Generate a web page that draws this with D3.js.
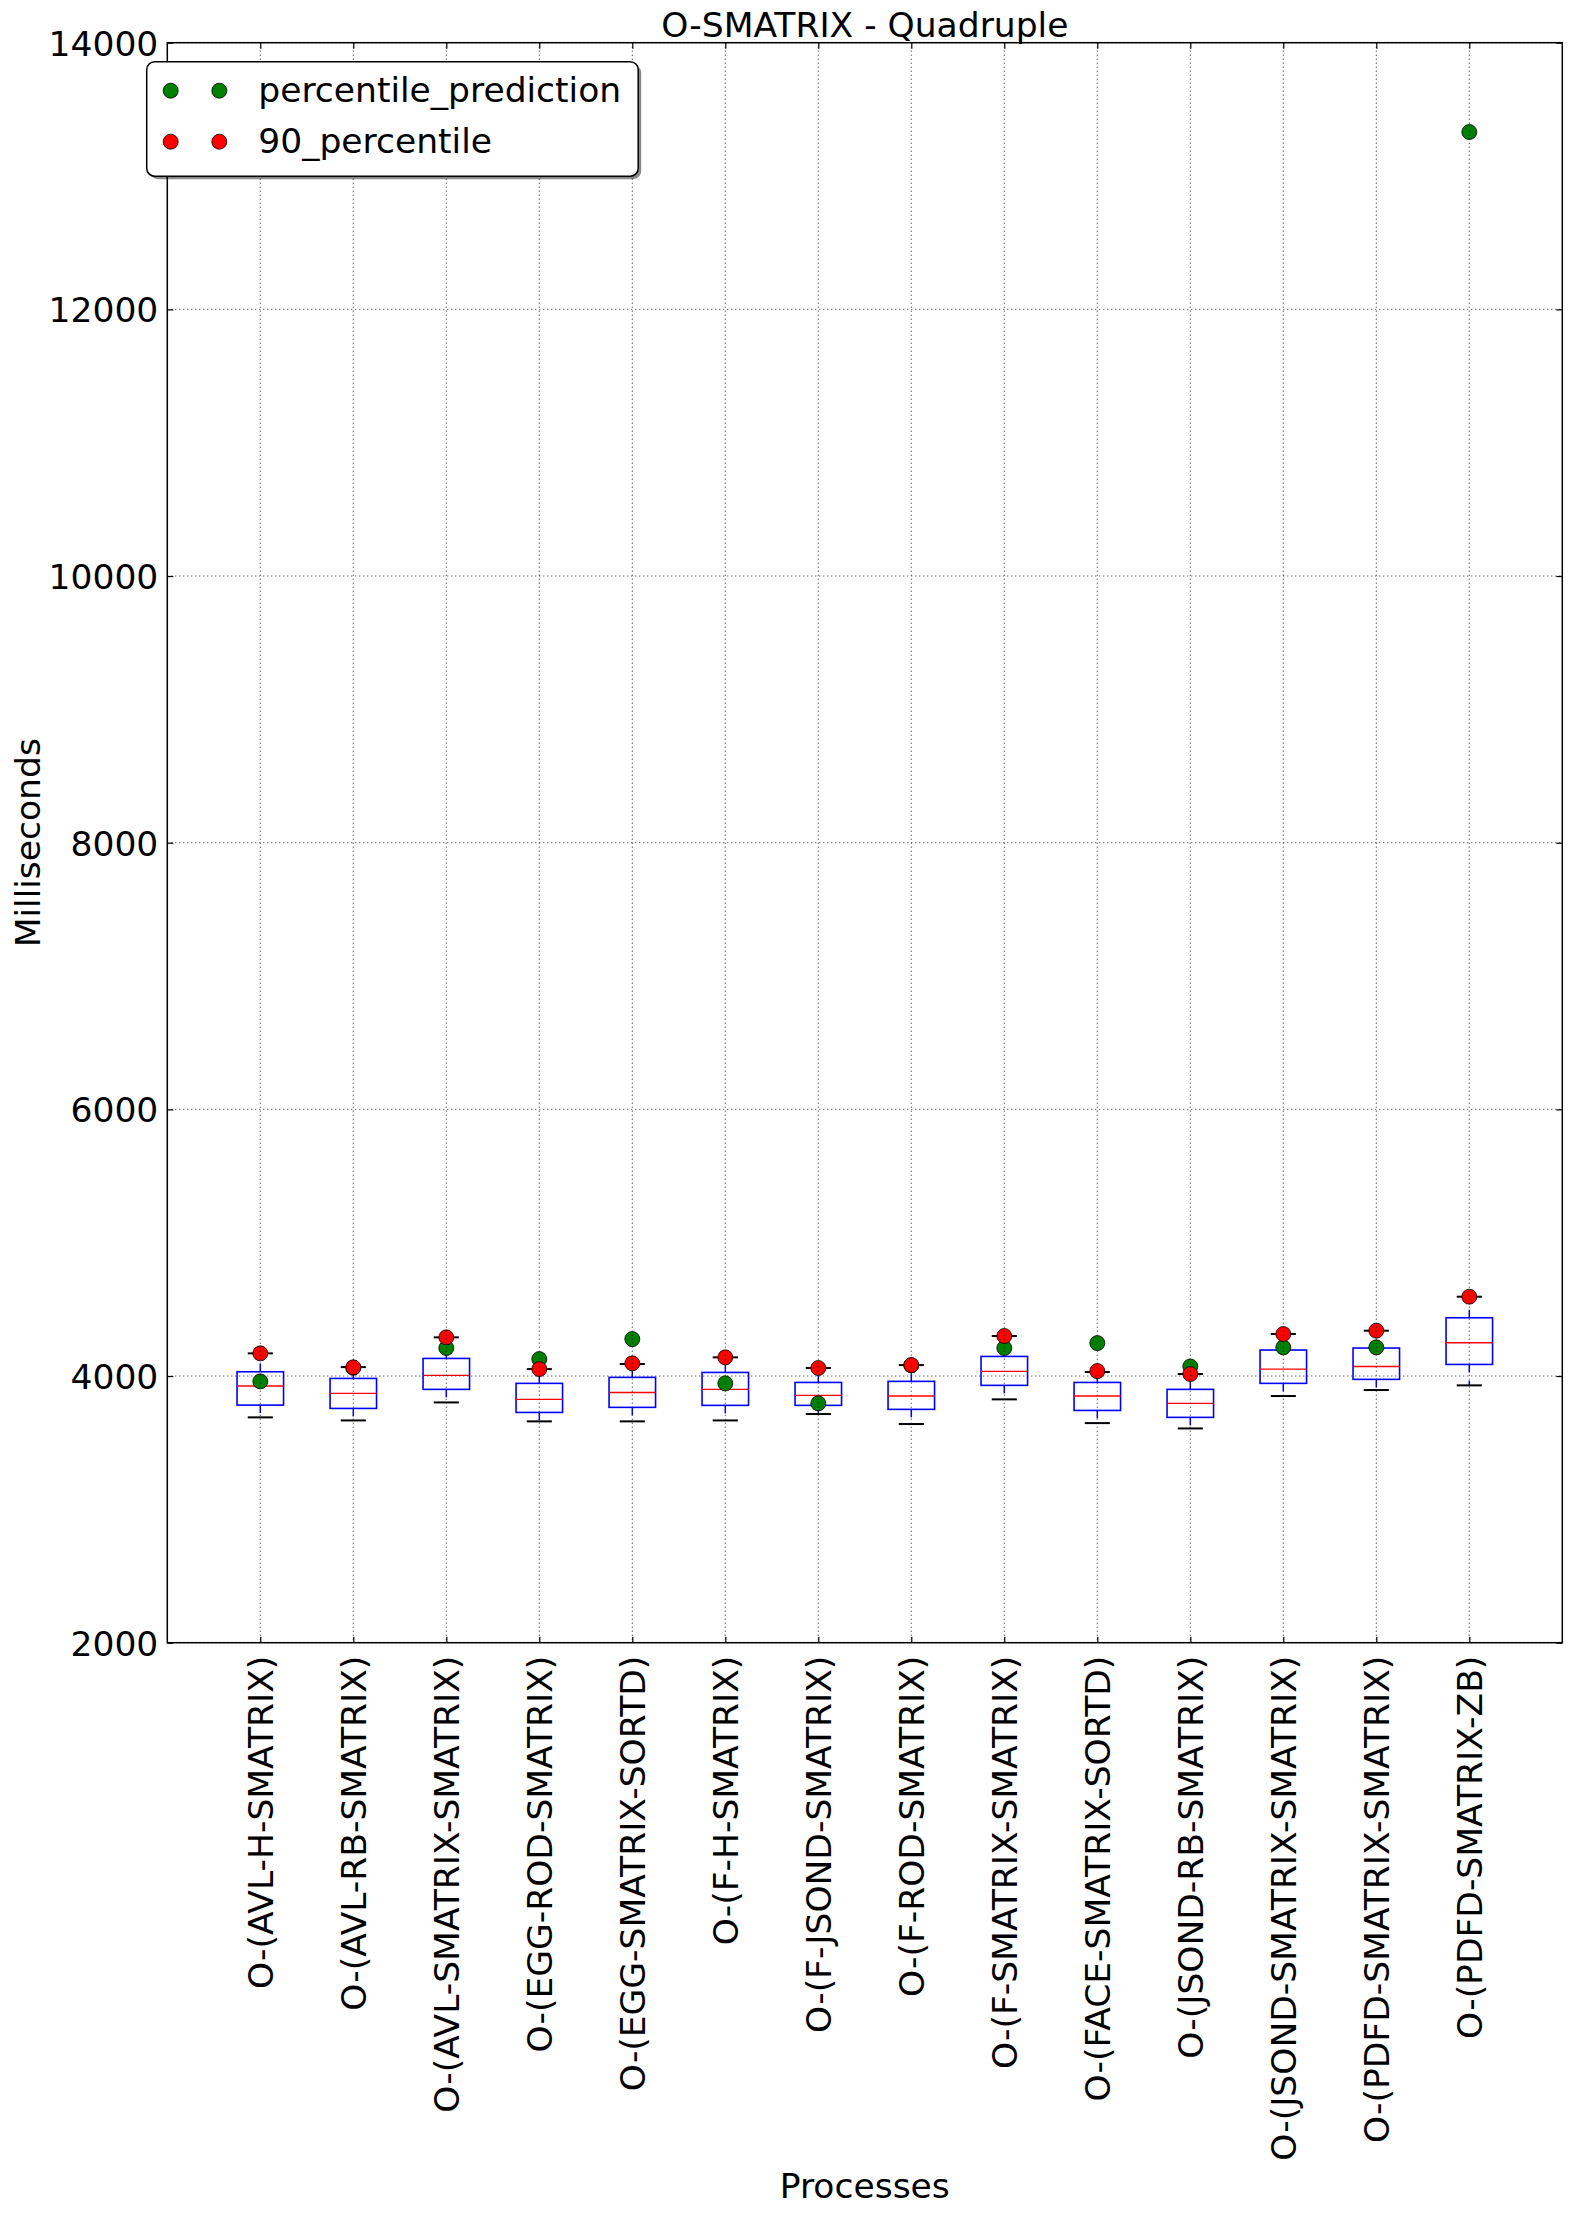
<!DOCTYPE html>
<html>
<head>
<meta charset="utf-8">
<script src="https://cdn.jsdelivr.net/npm/d3@7"></script>
<style>
  body { margin: 0; background: #fff; }
  svg text { font-family: "DejaVu Sans", sans-serif; fill: #000; }
</style>
</head>
<body>
<svg id="chart" width="1571" height="2214"></svg>
<script>
// values
const processes = [
  "O-(AVL-H-SMATRIX)", "O-(AVL-RB-SMATRIX)", "O-(AVL-SMATRIX-SMATRIX)", "O-(EGG-ROD-SMATRIX)",
  "O-(EGG-SMATRIX-SORTD)", "O-(F-H-SMATRIX)", "O-(F-JSOND-SMATRIX)", "O-(F-ROD-SMATRIX)",
  "O-(F-SMATRIX-SMATRIX)", "O-(FACE-SMATRIX-SORTD)", "O-(JSOND-RB-SMATRIX)", "O-(JSOND-SMATRIX-SMATRIX)",
  "O-(PDFD-SMATRIX-SMATRIX)", "O-(PDFD-SMATRIX-ZB)"
];
const whiskerLow  = [3690, 3667, 3802, 3660, 3660, 3667, 3715, 3640, 3825, 3647, 3607, 3850, 3895, 3930];
const q1          = [3782, 3757, 3900, 3727, 3765, 3780, 3780, 3750, 3930, 3742, 3690, 3945, 3975, 4087];
const median      = [3925, 3870, 4005, 3825, 3877, 3900, 3855, 3850, 4035, 3850, 3795, 4052, 4072, 4250];
const q3          = [4032, 3982, 4132, 3945, 3990, 4027, 3952, 3960, 4147, 3952, 3900, 4195, 4210, 4437];
const whiskerHigh = [4170, 4067, 4290, 4052, 4090, 4140, 4060, 4082, 4300, 4030, 4015, 4315, 4340, 4595];
const percentilePrediction = [3960, 4062, 4210, 4127, 4277, 3945, 3795, 4080, 4210, 4247, 4072, 4215, 4215, 13330];
const percentile90         = [4170, 4065, 4290, 4052, 4095, 4140, 4060, 4082, 4300, 4037, 4015, 4315, 4340, 4595];
const yTicks = [2000, 4000, 6000, 8000, 10000, 12000, 14000];
const legendLabels = ["percentile_prediction", "90_percentile"];
const legendColors = ["#008000", "#ff0000"];

const fontSize = 34.5;
const plot = { left: 167.3, right: 1562.3, top: 42.7, bottom: 1642.7 };
const svg = d3.select("#chart");

const x = d3.scaleLinear().domain([0, 15]).range([plot.left, plot.right]);
const y = d3.scaleLinear().domain([2000, 14000]).range([plot.bottom, plot.top]);
const positions = processes.map((d, i) => i + 1);

// boxes
const boxes = svg.append("g").selectAll("g")
  .data(processes.map((name, i) => ({
    pos: i + 1, lo: whiskerLow[i], q1: q1[i], med: median[i], q3: q3[i], hi: whiskerHigh[i]
  })))
  .join("g");

boxes.append("line") // upper whisker
  .attr("x1", d => x(d.pos)).attr("x2", d => x(d.pos))
  .attr("y1", d => y(d.q3)).attr("y2", d => y(d.hi))
  .attr("stroke", "#0000ff").attr("stroke-width", 1.5).attr("stroke-dasharray", "8,8");
boxes.append("line") // lower whisker
  .attr("x1", d => x(d.pos)).attr("x2", d => x(d.pos))
  .attr("y1", d => y(d.q1)).attr("y2", d => y(d.lo))
  .attr("stroke", "#0000ff").attr("stroke-width", 1.5).attr("stroke-dasharray", "8,8");
boxes.append("line") // caps
  .attr("x1", d => x(d.pos - 0.135)).attr("x2", d => x(d.pos + 0.135))
  .attr("y1", d => y(d.hi)).attr("y2", d => y(d.hi))
  .attr("stroke", "#000").attr("stroke-width", 2);
boxes.append("line")
  .attr("x1", d => x(d.pos - 0.135)).attr("x2", d => x(d.pos + 0.135))
  .attr("y1", d => y(d.lo)).attr("y2", d => y(d.lo))
  .attr("stroke", "#000").attr("stroke-width", 2);
boxes.append("rect")
  .attr("x", d => x(d.pos - 0.25)).attr("width", d => x(d.pos + 0.25) - x(d.pos - 0.25))
  .attr("y", d => y(d.q3)).attr("height", d => y(d.q1) - y(d.q3))
  .attr("fill", "none").attr("stroke", "#0000ff").attr("stroke-width", 1.6);
boxes.append("line")
  .attr("x1", d => x(d.pos - 0.25)).attr("x2", d => x(d.pos + 0.25))
  .attr("y1", d => y(d.med)).attr("y2", d => y(d.med))
  .attr("stroke", "#ff0000").attr("stroke-width", 1.4);

// points
svg.append("g").selectAll("circle")
  .data(percentilePrediction)
  .join("circle")
  .attr("cx", (d, i) => x(i + 1)).attr("cy", d => y(d)).attr("r", 7.5)
  .attr("fill", "#008000").attr("stroke", "#000").attr("stroke-width", 0.8);
svg.append("g").selectAll("circle")
  .data(percentile90)
  .join("circle")
  .attr("cx", (d, i) => x(i + 1)).attr("cy", d => y(d)).attr("r", 7.5)
  .attr("fill", "#ff0000").attr("stroke", "#000").attr("stroke-width", 0.8);

// grid (drawn above the data, classic style)
const grid = svg.append("g").attr("stroke", "#222").attr("stroke-width", 1).attr("stroke-dasharray", "1,3");
grid.selectAll(".vg").data(positions).join("line")
  .attr("x1", d => x(d)).attr("x2", d => x(d)).attr("y1", plot.top).attr("y2", plot.bottom);
grid.selectAll(".hg").data(yTicks).join("line")
  .attr("x1", plot.left).attr("x2", plot.right).attr("y1", d => y(d)).attr("y2", d => y(d));

// axes
const xAxis = svg.append("g").attr("transform", `translate(0,${plot.bottom})`)
  .call(d3.axisBottom(x).tickValues(positions).tickFormat(d => processes[d - 1]).tickSize(-6).tickSizeOuter(0));
xAxis.selectAll("text")
  .attr("y", 0).attr("x", -13).attr("dy", "0.35em")
  .attr("text-anchor", "end").attr("transform", "rotate(-90)");

const yAxis = svg.append("g").attr("transform", `translate(${plot.left},0)`)
  .call(d3.axisLeft(y).tickValues(yTicks).tickFormat(d3.format("d")).tickSize(-6).tickSizeOuter(0).tickPadding(9));
yAxis.selectAll("text").attr("dy", "0.36em");

svg.append("g").attr("transform", `translate(0,${plot.top})`)
  .call(d3.axisTop(x).tickValues(positions).tickFormat("").tickSize(-6).tickSizeOuter(0));
svg.append("g").attr("transform", `translate(${plot.right},0)`)
  .call(d3.axisRight(y).tickValues(yTicks).tickFormat("").tickSize(-6).tickSizeOuter(0));

svg.selectAll(".domain").remove();
svg.selectAll(".tick line").attr("stroke", "#000").attr("stroke-width", 1.2);
svg.selectAll(".tick text").attr("font-size", fontSize).attr("font-family", "DejaVu Sans");

svg.append("rect")
  .attr("x", plot.left).attr("y", plot.top)
  .attr("width", plot.right - plot.left).attr("height", plot.bottom - plot.top)
  .attr("fill", "none").attr("stroke", "#000").attr("stroke-width", 1.5);

// labels
svg.append("text").attr("x", (plot.left + plot.right) / 2).attr("y", 37)
  .attr("text-anchor", "middle").attr("font-size", fontSize).text("O-SMATRIX - Quadruple");
svg.append("text").attr("x", (plot.left + plot.right) / 2).attr("y", 2198)
  .attr("text-anchor", "middle").attr("font-size", fontSize).text("Processes");
svg.append("text").attr("transform", `translate(40,${(plot.top + plot.bottom) / 2}) rotate(-90)`)
  .attr("text-anchor", "middle").attr("font-size", fontSize).text("Milliseconds");

// legend
const legend = svg.append("g");
legend.append("rect")
  .attr("x", 149.7).attr("y", 64.7).attr("width", 491.5).attr("height", 114.5).attr("rx", 8)
  .attr("fill", "#000").attr("opacity", 0.45);
legend.append("rect")
  .attr("x", 146.7).attr("y", 61.7).attr("width", 491.5).attr("height", 114.5).attr("rx", 8)
  .attr("fill", "#fff").attr("stroke", "#000").attr("stroke-width", 1.5);
const items = legend.selectAll(".item").data(legendLabels).join("g")
  .attr("transform", (d, i) => `translate(0,${90.7 + i * 51})`);
items.selectAll("circle").data((d, i) => [legendColors[i], legendColors[i]]).join("circle")
  .attr("cx", (d, j) => 170.7 + j * 48.6).attr("cy", 0).attr("r", 7.5)
  .attr("fill", d => d).attr("stroke", "#000").attr("stroke-width", 0.8);
items.append("text").attr("x", 258.3).attr("y", 0).attr("dy", "0.34em")
  .attr("font-size", fontSize).text(d => d);
</script>
</body>
</html>
